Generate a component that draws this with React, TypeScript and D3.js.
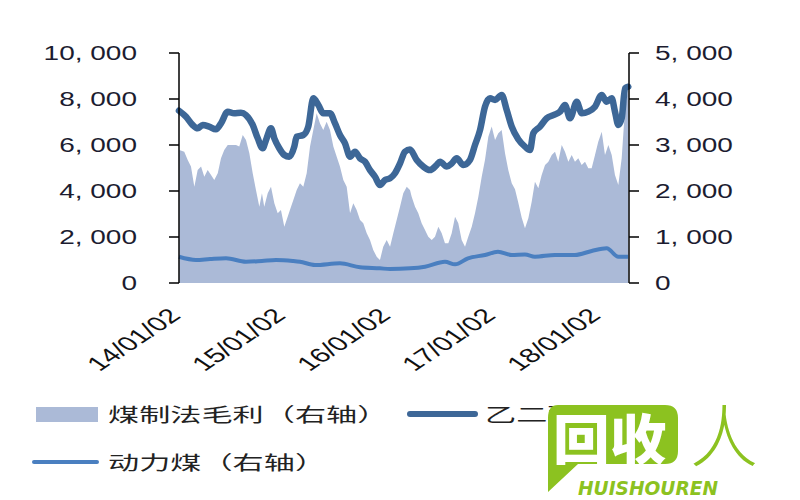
import React from "react";
import * as d3 from "d3";

// 乙二醇 (left axis), time as decimal year
const ethyleneT = [2014.0,2014.067,2014.13,2014.178,2014.226,2014.286,2014.352,2014.4,2014.464,2014.524,2014.59,2014.638,2014.702,2014.75,2014.797,2014.829,2014.876,2014.908,2014.955,2015.003,2015.05,2015.098,2015.121,2015.184,2015.231,2015.279,2015.327,2015.374,2015.438,2015.486,2015.533,2015.581,2015.629,2015.676,2015.724,2015.771,2015.819,2015.867,2015.914,2015.962,2016.01,2016.057,2016.105,2016.152,2016.2,2016.264,2016.327,2016.39,2016.454,2016.486,2016.55,2016.597,2016.645,2016.708,2016.771,2016.819,2016.867,2016.914,2016.962,2017.01,2017.073,2017.121,2017.169,2017.231,2017.295,2017.343,2017.374,2017.438,2017.502,2017.565,2017.629,2017.676,2017.724,2017.788,2017.835,2017.898,2017.962,2018.026,2018.073,2018.121,2018.152,2018.184,2018.216,2018.248,2018.279];
const ethyleneV = [7490,7230,6870,6725,6870,6800,6680,6940,7450,7380,7400,7300,6870,6290,5860,6220,6730,6290,5860,5565,5490,5930,6360,6435,6800,8030,7740,7380,7380,6940,6435,6075,5490,5710,5420,5275,4910,4620,4260,4480,4550,4770,5200,5710,5800,5350,5060,4910,5130,5275,5060,5200,5420,5130,5350,6000,6650,7665,8030,7960,8175,7520,6800,6250,5930,5780,6510,6800,7160,7300,7450,7740,7160,7880,7380,7450,7665,8175,7880,8030,7450,6870,7160,8465,8535];

// 动力煤 (right axis)
const coalT = [2014.0,2014.162,2014.295,2014.448,2014.638,2014.79,2014.924,2015.083,2015.152,2015.295,2015.533,2015.724,2015.914,2016.01,2016.2,2016.343,2016.533,2016.629,2016.752,2016.914,2017.038,2017.169,2017.295,2017.39,2017.581,2017.771,2017.93,2018.073,2018.184,2018.276];
const coalV = [570,500,520,537,463,480,500,480,463,391,428,341,319,304,319,355,463,406,537,609,681,609,620,572,609,609,696,754,572,572];

// 煤制法毛利 (right axis)
const marginT = [2014.003,2014.05,2014.083,2014.114,2014.146,2014.178,2014.21,2014.241,2014.273,2014.305,2014.336,2014.369,2014.4,2014.431,2014.464,2014.495,2014.543,2014.574,2014.607,2014.638,2014.67,2014.702,2014.733,2014.765,2014.79,2014.812,2014.845,2014.876,2014.908,2014.94,2014.971,2015.003,2015.035,2015.067,2015.089,2015.121,2015.152,2015.184,2015.216,2015.248,2015.279,2015.311,2015.343,2015.374,2015.406,2015.438,2015.47,2015.502,2015.533,2015.565,2015.597,2015.629,2015.66,2015.692,2015.724,2015.755,2015.788,2015.819,2015.85,2015.883,2015.914,2015.945,2015.978,2016.01,2016.041,2016.073,2016.105,2016.136,2016.169,2016.2,2016.216,2016.248,2016.279,2016.311,2016.343,2016.374,2016.407,2016.438,2016.47,2016.502,2016.533,2016.565,2016.597,2016.629,2016.66,2016.692,2016.724,2016.755,2016.788,2016.819,2016.851,2016.883,2016.914,2016.946,2016.978,2017.01,2017.041,2017.073,2017.105,2017.136,2017.169,2017.2,2017.231,2017.264,2017.295,2017.327,2017.359,2017.39,2017.422,2017.454,2017.486,2017.518,2017.55,2017.581,2017.612,2017.645,2017.676,2017.708,2017.74,2017.771,2017.803,2017.835,2017.867,2017.898,2017.93,2017.962,2017.993,2018.026,2018.057,2018.089,2018.121,2018.152,2018.184,2018.216,2018.248,2018.279];
const marginV = [2890,2855,2675,2530,2095,2455,2530,2310,2455,2350,2240,2385,2710,2890,3000,3000,3000,2965,3220,3110,2820,2385,2020,1660,1950,1660,1950,2095,1733,1515,1587,1224,1441,1660,1805,2020,2167,2095,2385,2965,3325,3690,3470,3325,3507,3325,2965,2745,2530,2240,2095,1515,1733,1587,1370,1298,1080,935,717,572,500,790,935,790,1080,1370,1660,1950,2095,2020,1876,1660,1515,1298,1152,1007,935,1007,1224,1080,863,863,1080,1441,1298,935,790,1007,1224,1515,1876,2310,2675,3180,3400,3110,3255,3325,2820,2455,2167,2040,1750,1420,1189,1406,1768,2202,2059,2348,2565,2637,2783,2855,2637,3000,2855,2637,2783,2637,2710,2565,2637,2492,2492,2783,3070,3290,2783,3000,2783,2348,2130,2710,3798,4233];

const leftTicks = [0, 2000, 4000, 6000, 8000, 10000];
const rightTicks = [0, 1000, 2000, 3000, 4000, 5000];
const xTicks = [2014, 2015, 2016, 2017, 2018];
const xTickLabels = ["14/01/02", "15/01/02", "16/01/02", "17/01/02", "18/01/02"];
const legendLabels = ["煤制法毛利（右轴）", "乙二醇", "动力煤（右轴）"];

const fmt = (v: number) => d3.format(",")(v).replace(",", ", ");

export default function App() {
  const L = 179, R = 629, T = 53, B = 283;
  const x = d3.scaleLinear().domain([2014, 2014 + 450 / 105]).range([L, R]);
  const yL = d3.scaleLinear().domain([0, 10000]).range([B, T]);
  const yR = d3.scaleLinear().domain([0, 5000]).range([B, T]);

  const areaGen = d3.area<number>()
    .x((_, i) => x(marginT[i]))
    .y0(yR(0))
    .y1((d) => yR(d));
  const ethLine = d3.line<number>().x((_, i) => x(ethyleneT[i])).y((d) => yL(d)).curve(d3.curveMonotoneX);
  const coalLine = d3.line<number>().x((_, i) => x(coalT[i])).y((d) => yR(d)).curve(d3.curveMonotoneX);

  const numFont = "'Liberation Sans', Arial, sans-serif";
  const cjkFont = "'Noto Sans CJK SC', sans-serif";
  const textColor = "#1c1c30";
  const green = "#8cc220";

  return (
    <svg width={800} height={500} style={{ position: "absolute", left: 0, top: 0, background: "#fff" }}>
      <rect width={800} height={500} fill="#fff" />
      <path d={areaGen(marginV) || ""} fill="#abbad7" />
      <path d={coalLine(coalV) || ""} fill="none" stroke="#4a7fc0" strokeWidth={4} strokeLinejoin="round" />
      <path d={ethLine(ethyleneV) || ""} fill="none" stroke="#3d6797" strokeWidth={6.5} strokeLinejoin="round" strokeLinecap="round" />

      {/* left axis */}
      <line x1={L} x2={L} y1={T} y2={B} stroke="#000" strokeWidth={1.5} />
      {leftTicks.map((t) => (
        <g key={"l" + t}>
          <line x1={L - 10} x2={L} y1={yL(t)} y2={yL(t)} stroke="#000" strokeWidth={1.5} />
          <text transform={`translate(137,${yL(t)}) scale(1.4,1)`} textAnchor="end" dy="0.36em"
            fontFamily={numFont} fontSize={20} fill={textColor}>{fmt(t)}</text>
        </g>
      ))}
      {/* right axis */}
      <line x1={R} x2={R} y1={T} y2={B} stroke="#000" strokeWidth={1.5} />
      {rightTicks.map((t) => (
        <g key={"r" + t}>
          <line x1={R} x2={R + 10} y1={yR(t)} y2={yR(t)} stroke="#000" strokeWidth={1.5} />
          <text transform={`translate(655,${yR(t)}) scale(1.4,1)`} textAnchor="start" dy="0.36em"
            fontFamily={numFont} fontSize={20} fill={textColor}>{fmt(t)}</text>
        </g>
      ))}
      {/* x labels */}
      {xTicks.map((t, i) => (
        <text key={"x" + t} transform={`translate(${x(t) + 3},${317}) scale(1.5,1) rotate(-45)`}
          textAnchor="end" fontFamily={numFont} fontSize={20} fill="#111">{xTickLabels[i]}</text>
      ))}

      {/* legend */}
      <rect x={36} y={407} width={62} height={15} fill="#abbad7" />
      <text transform="translate(108,422) scale(1.64,1)" fontFamily={cjkFont} fontSize={19} fill="#222">{legendLabels[0]}</text>
      <line x1={410} x2={475} y1={414} y2={414} stroke="#3d6797" strokeWidth={6} strokeLinecap="round" />
      <text transform="translate(485,422) scale(1.64,1)" fontFamily={cjkFont} fontSize={19} fill="#222">{legendLabels[1]}</text>
      <line x1={34} x2={97} y1={462} y2={462} stroke="#4a7fc0" strokeWidth={4} strokeLinecap="round" />
      <text transform="translate(108,470) scale(1.64,1)" fontFamily={cjkFont} fontSize={19} fill="#222">{legendLabels[2]}</text>

      {/* watermark */}
      <g>
        <path d="M558,405 H665 Q678,405 678,418 V451 Q678,464 665,464 H578 L548,492 V418 Q548,405 558,405 Z" fill={green} />
        <text transform="translate(553,460) scale(1.05,1)" fontFamily={cjkFont} fontWeight={900} fontSize={54} fill="#fff">回收</text>
        <text x={690} y={462} fontFamily={cjkFont} fontWeight={300} fontSize={68} fill={green}>人</text>
        <text transform="translate(578,495) scale(1,1.25)" fontFamily={"'DejaVu Sans', sans-serif"} fontWeight={700} fontStyle="italic" fontSize={15} fill={green} textLength={140} lengthAdjust="spacingAndGlyphs">HUISHOUREN</text>
      </g>
    </svg>
  );
}
